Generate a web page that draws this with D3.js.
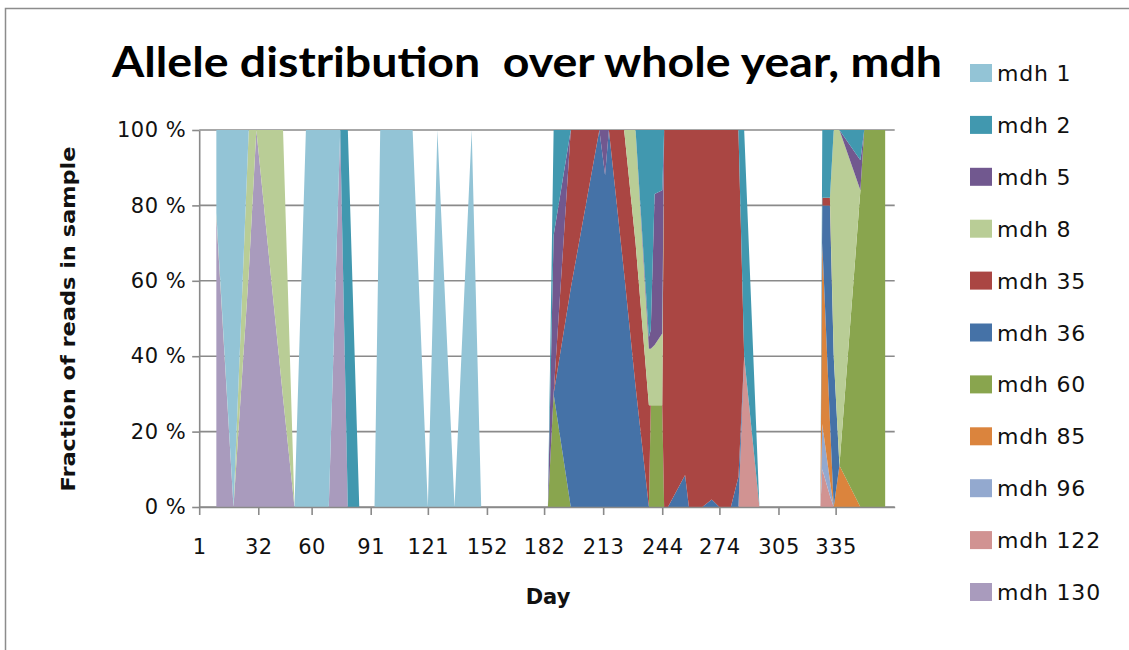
<!DOCTYPE html>
<html>
<head>
<meta charset="utf-8">
<script src="https://cdn.jsdelivr.net/npm/d3@7"></script>
<style>
  body { margin: 0; background: #fff; }
  svg { display: block; }
</style>
</head>
<body>
<svg id="chart" width="1129" height="650"></svg>
<script>
// legend order (top to bottom) = stack order from the top down
const seriesNames = ["mdh 1", "mdh 2", "mdh 5", "mdh 8", "mdh 35", "mdh 36", "mdh 60", "mdh 85", "mdh 96", "mdh 122", "mdh 130"];
const seriesColors = ["#93C4D6", "#4198AF", "#71588F", "#B9CD96", "#AA4643", "#4572A7", "#89A54E", "#DB843D", "#93A9CF", "#D19392", "#A99BBD"];

// sample days (rows with all zeros are empty samples)
const days = [10, 19, 27, 31, 45, 51, 57, 69, 75, 79,
              85, 93, 96, 113, 121, 126, 135, 144, 149, 184,
              187, 196, 211, 214, 216, 224, 230, 237, 238, 240,
              244, 245, 247, 256, 258, 265, 270, 274, 280, 284,
              287, 295, 327, 328, 332, 334, 337, 348, 350, 361];

// read share (%) of each allele per sample
const mdh1   = [22, 100, 0, 0, 0, 0, 100, 100, 0, 0,   0, 0, 100, 100, 0, 100, 0, 100, 0, 0,   0, 0, 0, 0, 0, 0, 0, 0, 0, 0,   0, 0, 0, 0, 0, 0, 0, 0, 0, 0,   0, 0, 0, 0, 0, 0, 0, 0, 0, 0];
const mdh2   = [0, 0, 0, 0, 0, 0, 0, 0, 0, 100,   0, 0, 0, 0, 0, 0, 0, 0, 0, 0,   28, 0, 0, 0, 0, 0, 0, 55, 53, 17,   16, 0, 0, 0, 0, 0, 0, 0, 0, 0,   60, 0, 0, 18, 18, 0, 0, 8, 0, 0];
const mdh5   = [0, 0, 0, 0, 0, 0, 0, 0, 0, 0,   0, 0, 0, 0, 0, 0, 0, 0, 0, 0,   42, 0, 0, 12, 0, 0, 0, 3, 5, 40,   38, 0, 0, 0, 0, 0, 0, 0, 0, 0,   0, 0, 0, 0, 0, 0, 0, 8, 0, 0];
const mdh8   = [1, 0, 38, 0, 71, 0, 0, 0, 0, 0,   0, 0, 0, 0, 0, 0, 0, 0, 0, 0,   0, 0, 0, 0, 0, 0, 30, 15, 15, 16,   19, 0, 0, 0, 0, 0, 0, 0, 0, 0,   0, 0, 0, 0, 0, 60, 89, 0, 0, 0];
const mdh35  = [0, 0, 0, 0, 0, 0, 0, 0, 0, 0,   0, 0, 0, 0, 0, 0, 0, 0, 0, 0,   0, 42, 0, 0, 0, 38, 38, 27, 0, 0,   0, 100, 100, 91.5, 100, 100, 98, 100, 100, 92,   0, 0, 0, 2, 2, 0, 0, 0, 0, 0];
const mdh36  = [0, 0, 0, 0, 0, 0, 0, 0, 0, 0,   0, 0, 0, 0, 0, 0, 0, 0, 0, 0,   0, 58, 100, 88, 100, 62, 32, 0, 0, 0,   0, 0, 0, 8.5, 0, 0, 2, 0, 0, 8,   0, 0, 0, 10, 57, 40, 0, 0, 0, 0];
const mdh60  = [0, 0, 0, 0, 0, 0, 0, 0, 0, 0,   0, 0, 0, 0, 0, 0, 0, 0, 0, 0,   30, 0, 0, 0, 0, 0, 0, 0, 27, 27,   27, 0, 0, 0, 0, 0, 0, 0, 0, 0,   0, 0, 0, 0, 0, 0, 0, 84, 100, 100];
const mdh85  = [0, 0, 0, 0, 0, 0, 0, 0, 0, 0,   0, 0, 0, 0, 0, 0, 0, 0, 0, 0,   0, 0, 0, 0, 0, 0, 0, 0, 0, 0,   0, 0, 0, 0, 0, 0, 0, 0, 0, 0,   0, 0, 0, 48, 16, 0, 11, 0, 0, 0];
const mdh96  = [0, 0, 0, 0, 0, 0, 0, 0, 0, 0,   0, 0, 0, 0, 0, 0, 0, 0, 0, 0,   0, 0, 0, 0, 0, 0, 0, 0, 0, 0,   0, 0, 0, 0, 0, 0, 0, 0, 0, 0,   0, 0, 0, 12, 4, 0, 0, 0, 0, 0];
const mdh122 = [0, 0, 0, 0, 0, 0, 0, 0, 0, 0,   0, 0, 0, 0, 0, 0, 0, 0, 0, 0,   0, 0, 0, 0, 0, 0, 0, 0, 0, 0,   0, 0, 0, 0, 0, 0, 0, 0, 0, 0,   40, 0, 0, 10, 3, 0, 0, 0, 0, 0];
const mdh130 = [77, 0, 62, 100, 29, 0, 0, 0, 100, 0,   0, 0, 0, 0, 0, 0, 0, 0, 0, 0,   0, 0, 0, 0, 0, 0, 0, 0, 0, 0,   0, 0, 0, 0, 0, 0, 0, 0, 0, 0,   0, 0, 0, 0, 0, 0, 0, 0, 0, 0];

const tickDays = [1, 32, 60, 91, 121, 152, 182, 213, 244, 274, 305, 335];
const yTicks = [0, 0.2, 0.4, 0.6, 0.8, 1];

const seriesValues = [mdh1, mdh2, mdh5, mdh8, mdh35, mdh36, mdh60, mdh85, mdh96, mdh122, mdh130];

const rows = days.map((d, i) => {
    const r = { day: d };
    seriesNames.forEach((name, k) => { r[name] = seriesValues[k][i]; });
    return r;
});

const svg = d3.select('#chart');
const plot = { left: 199.2, right: 894.7, top: 130, bottom: 507 };

// chart area border
svg.append('rect')
    .attr('x', 5.5).attr('y', 8.5)
    .attr('width', 1140).attr('height', 660)
    .attr('fill', 'none')
    .attr('stroke', '#8c8c8c')
    .attr('stroke-width', 1.5);

const x = d3.scaleLinear().domain([1, 366]).range([plot.left, plot.right]);
const y = d3.scaleLinear().domain([0, 1]).range([plot.bottom, plot.top]);

// gridlines
svg.append('g')
    .selectAll('line')
    .data(yTicks)
    .enter()
    .append('line')
    .attr('x1', plot.left).attr('x2', plot.right)
    .attr('y1', d => y(d)).attr('y2', d => y(d))
    .attr('stroke', '#8a8a8a')
    .attr('stroke-width', 1.6);

// 100% stacked areas, mdh 130 at the bottom
const stackKeys = seriesNames.slice().reverse();
const stacked = d3.stack()
    .keys(stackKeys)
    .order(d3.stackOrderNone)
    .offset(d3.stackOffsetExpand)(rows);

const colorOf = d3.scaleOrdinal().domain(seriesNames).range(seriesColors);

const area = d3.area()
    .x(d => x(d.data.day))
    .y0(d => y(d[0]))
    .y1(d => y(d[1]));

svg.append('g')
    .selectAll('path')
    .data(stacked)
    .enter()
    .append('path')
    .attr('d', area)
    .attr('fill', d => colorOf(d.key));

// axes
const xAxis = d3.axisBottom(x)
    .tickValues(tickDays)
    .tickFormat(d => d)
    .tickSize(8)
    .tickSizeOuter(0)
    .tickPadding(24);
const gx = svg.append('g')
    .attr('transform', `translate(0,${plot.bottom})`)
    .call(xAxis);

const yAxis = d3.axisLeft(y)
    .tickValues(yTicks)
    .tickFormat(d => Math.round(d * 100) + ' %')
    .tickSize(7)
    .tickSizeOuter(0)
    .tickPadding(6);
const gy = svg.append('g')
    .attr('transform', `translate(${plot.left},0)`)
    .call(yAxis);

[gx, gy].forEach(g => {
    g.select('.domain').attr('stroke', '#8a8a8a').attr('stroke-width', 1.6);
    g.selectAll('.tick line').attr('stroke', '#8a8a8a').attr('stroke-width', 1.6);
    g.selectAll('.tick text')
        .attr('fill', '#111')
        .style('font-family', 'DejaVu Sans')
        .style('font-size', '21px')
        .style('letter-spacing', '0.5px');
});

// title
const title = svg.append('text')
    .attr('x', 527).attr('y', 77)
    .attr('text-anchor', 'middle')
    .attr('xml:space', 'preserve')
    .style('white-space', 'pre')
    .style('font-family', 'Lato')
    .style('font-weight', 'bold')
    .style('font-size', '42px')
    .attr('fill', '#000')
    .text('Allele distribution  over whole year, mdh');
title.attr('textLength', 830).attr('lengthAdjust', 'spacingAndGlyphs');

// axis titles
svg.append('text')
    .attr('x', 548).attr('y', 604)
    .attr('text-anchor', 'middle')
    .style('font-family', 'DejaVu Sans')
    .style('font-weight', 'bold')
    .style('font-size', '21px')
    .attr('fill', '#111')
    .text('Day');

svg.append('text')
    .attr('transform', 'translate(75,319) rotate(-90)')
    .attr('text-anchor', 'middle')
    .style('font-family', 'DejaVu Sans')
    .style('font-weight', 'bold')
    .style('font-size', '20px')
    .attr('fill', '#111')
    .attr('textLength', 345)
    .attr('lengthAdjust', 'spacingAndGlyphs')
    .text('Fraction of reads in sample');

// legend
const legend = svg.append('g').attr('transform', 'translate(970,73)');
const item = legend.selectAll('g')
    .data(seriesNames)
    .enter()
    .append('g')
    .attr('transform', (d, i) => `translate(0,${i * 51.9})`);
item.append('rect')
    .attr('x', 0).attr('y', -9)
    .attr('width', 22).attr('height', 18)
    .attr('fill', d => colorOf(d));
item.append('text')
    .attr('x', 27).attr('y', 8)
    .style('font-family', 'DejaVu Sans')
    .style('font-size', '22px')
    .style('letter-spacing', '0.8px')
    .attr('fill', '#111')
    .text(d => d);
</script>
</body>
</html>
